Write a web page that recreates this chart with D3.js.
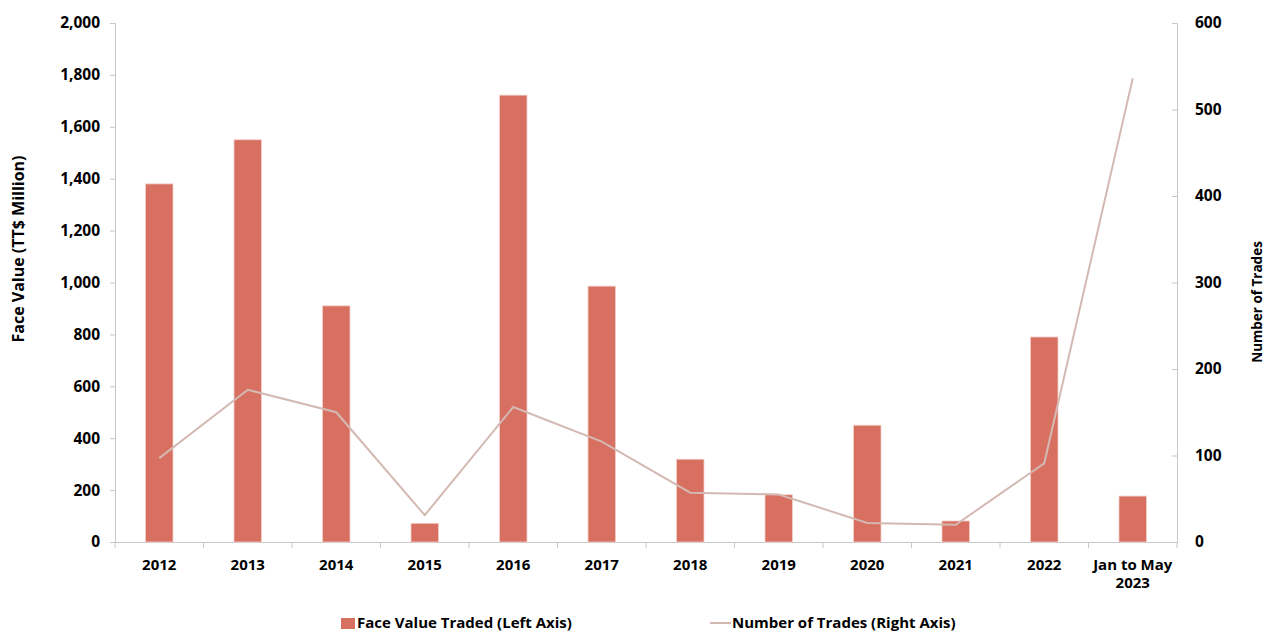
<!DOCTYPE html>
<html><head><meta charset="utf-8">
<script src="https://cdn.jsdelivr.net/npm/d3@7"></script>
<style>body{margin:0;background:#fff}svg{display:block}text{font-family:"Open Sans",sans-serif;font-weight:700;fill:#000}</style>
</head><body>
<svg id="c" width="1265" height="632"></svg>
<script>
const categories = ["2012","2013","2014","2015","2016","2017","2018","2019","2020","2021","2022","Jan to May|2023"];
const faceValue = [1380,1550,910,72,1722,986,319,182,450,81,790,177];
const trades = [97,176,150,31,156,116,57,55,22,20,91,536];
const leftTicks = [0,200,400,600,800,1000,1200,1400,1600,1800,2000];
const rightTicks = [0,100,200,300,400,500,600];

const svg = d3.select("#c");
const L=115, R=1177, T=23, B=542;
const x = d3.scaleBand().domain(categories).range([L,R]).paddingInner(0).paddingOuter(0);
const yL = d3.scaleLinear().domain([0,2000]).range([B,T]);
const yR = d3.scaleLinear().domain([0,600]).range([B,T]);
const axisCol="#c8c8c8";

// left axis
const gl = svg.append("g").attr("transform",`translate(${L},0)`)
  .call(d3.axisLeft(yL).tickValues(leftTicks).tickSize(5).tickPadding(10).tickFormat(d3.format(",")));
// right axis
const gr = svg.append("g").attr("transform",`translate(${R},0)`)
  .call(d3.axisRight(yR).tickValues(rightTicks).tickSize(-5).tickPadding(18));
// x axis
const gx = svg.append("g").attr("transform",`translate(0,${B})`)
  .call(d3.axisBottom(x).tickSize(0).tickFormat(""));
[gl,gr,gx].forEach(g=>{g.select(".domain").attr("stroke",axisCol);g.selectAll(".tick line").attr("stroke",axisCol);g.selectAll("text").attr("font-size",15.5).attr("font-family","Open Sans").attr("font-weight",700);});
// category boundary ticks
svg.append("g").selectAll("line").data(categories.concat(["__end"])).join("line")
  .attr("x1",(d,i)=>L+i*x.bandwidth()).attr("x2",(d,i)=>L+i*x.bandwidth())
  .attr("y1",B).attr("y2",B+6).attr("stroke",axisCol);
// x labels
svg.append("g").selectAll("text").data(categories).join("text")
  .attr("x",d=>x(d)+x.bandwidth()/2).attr("y",570).attr("text-anchor","middle").attr("font-size",15)
  .each(function(d){const parts=d.split("|");const t=d3.select(this);
    parts.forEach((p,i)=>t.append("tspan").attr("x",x(d)+x.bandwidth()/2).attr("dy",i?18:0).text(p));});

// bars
const bw = 27.5;
svg.append("g").selectAll("rect").data(faceValue).join("rect")
  .attr("x",(d,i)=>x(categories[i])+x.bandwidth()/2-bw/2).attr("width",bw)
  .attr("y",d=>yL(d)).attr("height",d=>B-yL(d))
  .attr("fill","#d87062").attr("stroke","#f2cfc8").attr("stroke-width",0.8);

// line
const line = d3.line().x((d,i)=>x(categories[i])+x.bandwidth()/2).y(d=>yR(d));
svg.append("path").datum(trades).attr("d",line).attr("fill","none").attr("stroke","#d4b9b3").attr("stroke-width",2);

// axis titles
svg.append("text").attr("transform","translate(24,249) rotate(-90)").attr("text-anchor","middle").attr("font-size",16).text("Face Value (TT$ Million)");
svg.append("text").attr("transform","translate(1262,302) rotate(-90)").attr("text-anchor","middle").attr("font-size",13.5).text("Number of Trades");

// legend
svg.append("rect").attr("x",341).attr("y",618).attr("width",14).attr("height",11).attr("fill","#d87062");
svg.append("text").attr("x",357).attr("y",628).attr("font-size",15).text("Face Value Traded (Left Axis)");
svg.append("line").attr("x1",710).attr("x2",731).attr("y1",623).attr("y2",623).attr("stroke","#d4b9b3").attr("stroke-width",2);
svg.append("text").attr("x",732).attr("y",628).attr("font-size",15).text("Number of Trades (Right Axis)");
</script>
</body></html>
